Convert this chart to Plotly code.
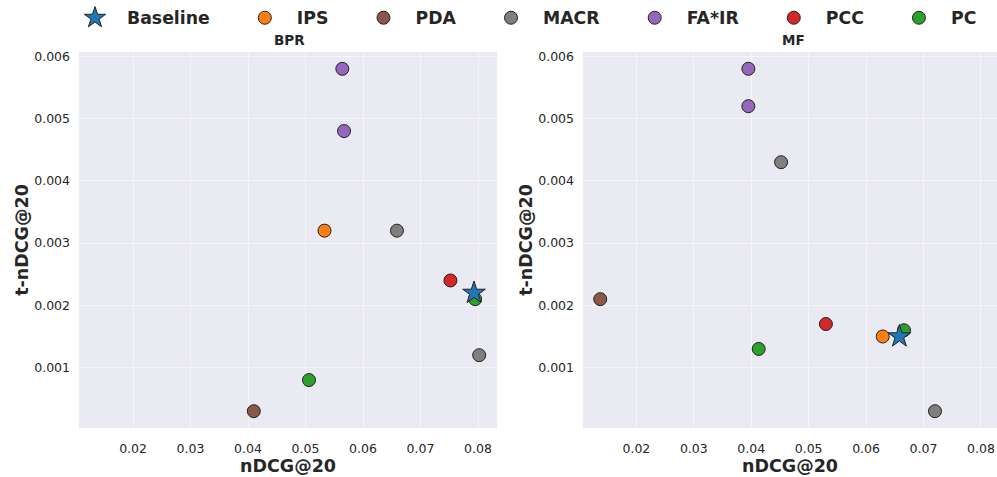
import plotly.graph_objects as go

# Methods and their style
methods = ["Baseline", "IPS", "PDA", "MACR", "FA*IR", "PCC", "PC"]
colors = {
    "Baseline": "#1f77b4", "IPS": "#ff7f0e", "PDA": "#8c564b", "MACR": "#7f7f7f",
    "FA*IR": "#9467bd", "PCC": "#d62728", "PC": "#2ca02c",
}

# BPR backbone: (nDCG@20, t-nDCG@20) per method
bpr_ndcg = {
    "Baseline": [0.0793], "IPS": [0.0533], "PDA": [0.0410], "MACR": [0.0659, 0.0802],
    "FA*IR": [0.0564, 0.0567], "PCC": [0.0752], "PC": [0.0795, 0.0506],
}
bpr_tndcg = {
    "Baseline": [0.0022], "IPS": [0.0032], "PDA": [0.0003], "MACR": [0.0032, 0.0012],
    "FA*IR": [0.0058, 0.0048], "PCC": [0.0024], "PC": [0.0021, 0.0008],
}

# MF backbone
mf_ndcg = {
    "Baseline": [0.0658], "IPS": [0.0629], "PDA": [0.0137], "MACR": [0.0452, 0.0720],
    "FA*IR": [0.0395, 0.0395], "PCC": [0.0530], "PC": [0.0666, 0.0413],
}
mf_tndcg = {
    "Baseline": [0.0015], "IPS": [0.0015], "PDA": [0.0021], "MACR": [0.0043, 0.0003],
    "FA*IR": [0.0058, 0.0052], "PCC": [0.0017], "PC": [0.0016, 0.0013],
}

x_ticks = [0.02, 0.03, 0.04, 0.05, 0.06, 0.07, 0.08]
y_ticks = [0.001, 0.002, 0.003, 0.004, 0.005, 0.006]

FONT = "DejaVu Sans"
W, H = 997, 477

fig = go.Figure()

# draw non-baseline methods first so the star sits on top
order = ["IPS", "PDA", "MACR", "FA*IR", "PCC", "PC", "Baseline"]
legend_rank = {m: i for i, m in enumerate(methods)}


def legend_label(m):
    # widen the gap between marker and text, and between entries
    trail = "" if m == methods[-1] else "     "
    return "  " + m + trail


for panel, (xs, ys) in enumerate([(bpr_ndcg, bpr_tndcg), (mf_ndcg, mf_tndcg)]):
    xa = "x" if panel == 0 else "x2"
    ya = "y" if panel == 0 else "y2"
    for m in order:
        star = m == "Baseline"
        fig.add_trace(go.Scatter(
            x=xs[m], y=ys[m], mode="markers", name=legend_label(m),
            legendgroup=m, showlegend=(panel == 0), legendrank=legend_rank[m],
            xaxis=xa, yaxis=ya,
            marker=dict(
                symbol="star" if star else "circle",
                size=17 if star else 13,
                color=colors[m],
                line=dict(color="#222222", width=1),
            ),
        ))

axis_common = dict(
    showgrid=True, gridcolor="rgba(255,255,255,0.5)", gridwidth=1, zeroline=False,
    showline=False, ticks="",
    tickfont=dict(family=FONT, size=12.5, color="#262626"),
)

x_title = dict(text="<b>nDCG@20</b>", font=dict(family=FONT, size=17.5, color="#262626"), standoff=3)
y_title = dict(text="<b>t-nDCG@20</b>", font=dict(family=FONT, size=17.5, color="#262626"), standoff=1)

fig.update_layout(
    width=W, height=H,
    margin=dict(l=0, r=0, t=0, b=0, autoexpand=False),
    paper_bgcolor="white",
    plot_bgcolor="#EAEAF2",
    font=dict(family=FONT, color="#262626"),
    xaxis=dict(domain=[79 / W, 497 / W], range=[0.0106, 0.0833], tickvals=x_ticks,
               tickformat=".2f", anchor="y", title=x_title, ticklabelstandoff=11, **axis_common),
    yaxis=dict(domain=[1 - 428 / H, 1 - 52 / H], range=[0.00003, 0.00607], tickvals=y_ticks,
               tickformat=".3f", anchor="x", title=y_title, ticklabelstandoff=8, **axis_common),
    xaxis2=dict(domain=[583 / W, 1.0], range=[0.0107, 0.0828], tickvals=x_ticks,
                tickformat=".2f", anchor="y2", title=x_title, ticklabelstandoff=11, **axis_common),
    yaxis2=dict(domain=[1 - 428 / H, 1 - 52 / H], range=[0.00003, 0.00607], tickvals=y_ticks,
                tickformat=".3f", anchor="x2", title=y_title, ticklabelstandoff=8, **axis_common),
    legend=dict(
        orientation="h", x=75 / W, y=1 - 18 / H, xanchor="left", yanchor="middle",
        font=dict(family=FONT, size=17.3, color="#262626", weight="bold"),
        bgcolor="rgba(0,0,0,0)", traceorder="normal",
    ),
    annotations=[
        dict(text="<b>BPR</b>", x=289 / W, y=1 - 40 / H, xref="paper", yref="paper",
             xanchor="center", yanchor="middle",
             showarrow=False, font=dict(family=FONT, size=13.5, color="#262626")),
        dict(text="<b>MF</b>", x=793 / W, y=1 - 40 / H, xref="paper", yref="paper",
             xanchor="center", yanchor="middle",
             showarrow=False, font=dict(family=FONT, size=13.5, color="#262626")),
    ],
)

fig.write_html("out.html")
